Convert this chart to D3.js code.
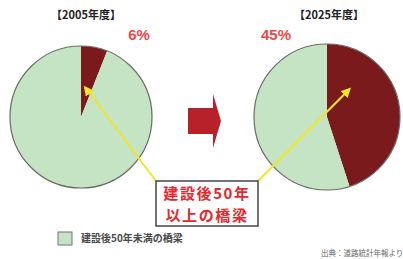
<!DOCTYPE html>
<html>
<head>
<meta charset="utf-8">
<script src="https://cdn.jsdelivr.net/npm/d3@7"></script>
<style>
  body { margin: 0; background: #fff; }
  svg { display: block; font-family: "Noto Sans CJK JP", "Noto Sans", sans-serif; }
</style>
</head>
<body>
<script>
// data
var years = ["【2005年度】", "【2025年度】"];
var shares = [6, 45]; // % of bridges 50+ years old
var shareLabels = ["6%", "45%"];
var calloutLines = ["建設後50年", "以上の橋梁"];
var legendLabel = "建設後50年未満の橋梁";
var sourceLabel = "出典：道路統計年報より";

function main() {
  var width = 403, height = 259;
  var svg = d3.select("body").append("svg")
    .attr("width", width)
    .attr("height", height);

  var oldColor = "#7b1a1c";
  var newColor = "#c4e4c4";

  // two pies side by side
  var pies = [
    { cx: 81, cy: 117, r: 71, titleX: 86, labelX: 139 },
    { cx: 327, cy: 117, r: 73, titleX: 329, labelX: 276 }
  ];

  var pie = d3.pie().sort(null).value(function (d) { return d; });
  var arc = d3.arc().innerRadius(0);

  // arrow marker for the yellow pointer lines
  svg.append("defs").append("marker")
    .attr("id", "yarrow")
    .attr("viewBox", "0 0 10 10")
    .attr("refX", 8).attr("refY", 5)
    .attr("markerWidth", 5).attr("markerHeight", 5)
    .attr("orient", "auto")
    .append("path")
    .attr("d", "M0,0 L10,5 L0,10 z")
    .attr("fill", "#f2e52a");

  var pointers = [];

  pies.forEach(function (p, i) {
    var g = svg.append("g").attr("transform", "translate(" + p.cx + "," + p.cy + ")");
    g.selectAll("path")
      .data(pie([shares[i], 100 - shares[i]]))
      .enter().append("path")
      .attr("d", arc.outerRadius(p.r))
      .attr("fill", function (d, j) { return j === 0 ? oldColor : newColor; })
      .attr("stroke", "none");
    g.append("circle")
      .attr("r", p.r)
      .attr("fill", "none")
      .attr("stroke", "#6b6b66")
      .attr("stroke-width", 1.2);

    // pointer target inside the dark slice
    var slice = pie([shares[i], 100 - shares[i]])[0];
    var a = i === 0 ? (slice.endAngle * 0.35) : (slice.endAngle * 0.24);
    var rr = i === 0 ? 30 : 36;
    pointers.push([p.cx + rr * Math.sin(a), p.cy - rr * Math.cos(a)]);

    svg.append("text")
      .attr("x", p.titleX).attr("y", 15)
      .attr("dy", "0.35em")
      .attr("text-anchor", "middle")
      .attr("font-size", 11)
      .attr("font-weight", "bold")
      .attr("fill", "#222")
      .text(years[i]);

    svg.append("text")
      .attr("x", p.labelX).attr("y", 35)
      .attr("dy", "0.35em")
      .attr("text-anchor", "middle")
      .attr("font-family", "Liberation Sans, Arial, sans-serif")
      .attr("font-size", 15)
      .attr("font-weight", "bold")
      .attr("fill", "#f04848")
      .text(shareLabels[i]);
  });

  // big red arrow between pies
  svg.append("path")
    .attr("d", "M188,108 L213,108 L213,94 L221,121 L213,148 L213,134 L188,134 Z")
    .attr("fill", "#b8202a");

  // callout box
  var box = { x: 156, y: 181, w: 102, h: 45 };
  // yellow pointer lines from box corners
  svg.append("line")
    .attr("x1", box.x).attr("y1", box.y)
    .attr("x2", pointers[0][0]).attr("y2", pointers[0][1])
    .attr("stroke", "#f2e52a").attr("stroke-width", 2)
    .attr("marker-end", "url(#yarrow)");
  svg.append("line")
    .attr("x1", box.x + box.w).attr("y1", box.y)
    .attr("x2", pointers[1][0]).attr("y2", pointers[1][1])
    .attr("stroke", "#f2e52a").attr("stroke-width", 2)
    .attr("marker-end", "url(#yarrow)");

  svg.append("rect")
    .attr("x", box.x).attr("y", box.y)
    .attr("width", box.w).attr("height", box.h)
    .attr("fill", "#fff")
    .attr("stroke", "#444")
    .attr("stroke-width", 1.5);

  svg.selectAll(".callout")
    .data(calloutLines)
    .enter().append("text")
    .attr("class", "callout")
    .attr("x", box.x + box.w / 2)
    .attr("y", function (d, i) { return 194 + i * 22; })
    .attr("dy", "0.35em")
    .attr("text-anchor", "middle")
    .attr("font-size", 15)
    .attr("letter-spacing", 1.6)
    .attr("font-weight", "bold")
    .attr("fill", "#e8262b")
    .text(function (d) { return d; });

  // legend
  svg.append("rect")
    .attr("x", 58).attr("y", 232)
    .attr("width", 14).attr("height", 13)
    .attr("fill", newColor)
    .attr("stroke", "#777")
    .attr("stroke-width", 1);
  svg.append("text")
    .attr("x", 81).attr("y", 238.5)
    .attr("dy", "0.35em")
    .attr("font-size", 10)
    .attr("font-weight", "bold")
    .attr("fill", "#4a4a4a")
    .text(legendLabel);

  // source note
  svg.append("text")
    .attr("x", 321).attr("y", 253)
    .attr("dy", "0.35em")
    .attr("font-size", 7.5)
    .attr("fill", "#666")
    .text(sourceLabel);
}
document.addEventListener("DOMContentLoaded", main);
</script>
</body>
</html>
